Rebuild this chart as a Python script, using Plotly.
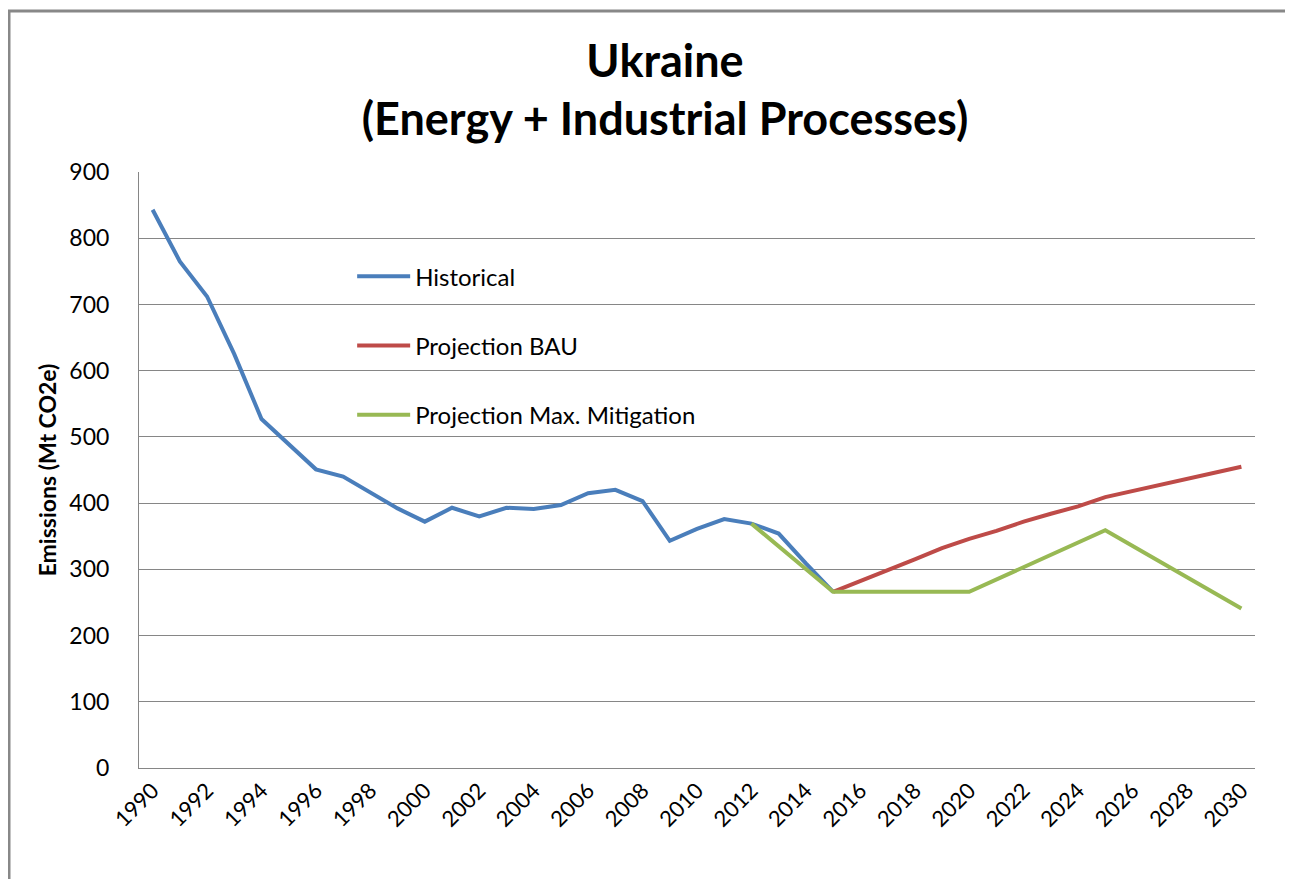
import plotly.graph_objects as go

hist_years = list(range(1990, 2016))
hist_vals = [843, 765, 712, 625, 527, 488, 451, 440, 416, 392, 372, 393, 380, 393, 391, 397,
             415, 420, 403, 343, 361, 376, 369, 354, 309, 266]

bau_years = list(range(2015, 2031))
bau_vals = [266, 282, 299, 315, 332, 346, 358, 372, 384, 395, 409, 418, 427, 437, 446, 455]

mit_years = [2012, 2015, 2020, 2025, 2030]
mit_vals = [369, 266, 266, 359, 241]

tick_years = list(range(1990, 2031, 2))
y_ticks = list(range(0, 901, 100))

FONT = "Lato, 'Open Sans', sans-serif"

# page body has an 8px margin: figure coordinates = screen - 8
W, H = 1285, 871
L, T = 131, 164
PW, PH = 1116, 596

fig = go.Figure()
fig.add_trace(go.Scatter(x=hist_years, y=hist_vals, mode="lines", name="Historical",
                         legendgroup="a", line=dict(color="#4A7EBB", width=4)))
fig.add_trace(go.Scatter(x=bau_years, y=bau_vals, mode="lines", name="Projection BAU",
                         legendgroup="b", line=dict(color="#BE4B48", width=4)))
fig.add_trace(go.Scatter(x=mit_years, y=mit_vals, mode="lines", name="Projection Max. Mitigation",
                         legendgroup="c", line=dict(color="#98B954", width=4)))

fig.update_layout(
    width=W, height=H,
    margin=dict(l=L, r=W - L - PW, t=T, b=H - T - PH),
    paper_bgcolor="white", plot_bgcolor="white",
    font=dict(family=FONT, color="#000000"),
    title=dict(text="<b>Ukraine<br>(Energy + Industrial Processes)</b>",
               x=(665 - 8) / W, xanchor="center", y=0.921, yanchor="middle",
               font=dict(size=45, family=FONT, color="black")),
    showlegend=True,
    legend=dict(x=0.191, y=0.862, xanchor="left", yanchor="top",
                font=dict(size=24, family=FONT, color="black"),
                bgcolor="rgba(0,0,0,0)", tracegroupgap=35, itemwidth=53),
    xaxis=dict(range=[1989.5, 2030.5], tickmode="array", tickvals=tick_years,
               ticktext=[str(t) for t in tick_years], tickangle=-45,
               tickfont=dict(size=22, family=FONT, color="black"),
               showgrid=False, showline=True, linecolor="#868686", linewidth=1,
               ticks="", zeroline=False),
    yaxis=dict(range=[0, 900], tickmode="array", tickvals=y_ticks,
               tickfont=dict(size=23, family=FONT, color="black"),
               showgrid=True, gridcolor="#868686", gridwidth=1,
               showline=True, linecolor="#868686", linewidth=1,
               ticks="", ticklabelstandoff=24, zeroline=False,
               title=dict(text="<b>Emissions (Mt CO2e)</b>",
                          font=dict(size=23, family=FONT, color="black"),
                          standoff=6)),
    shapes=[dict(type="rect", xref="paper", yref="paper",
                 x0=(1 - L) / PW, x1=(1330 - L) / PW,
                 y0=-200 / PH, y1=(T + PH - 3) / PH,
                 line=dict(color="#888888", width=3), fillcolor="rgba(0,0,0,0)", layer="below")],
)

fig.write_html("out.html")
